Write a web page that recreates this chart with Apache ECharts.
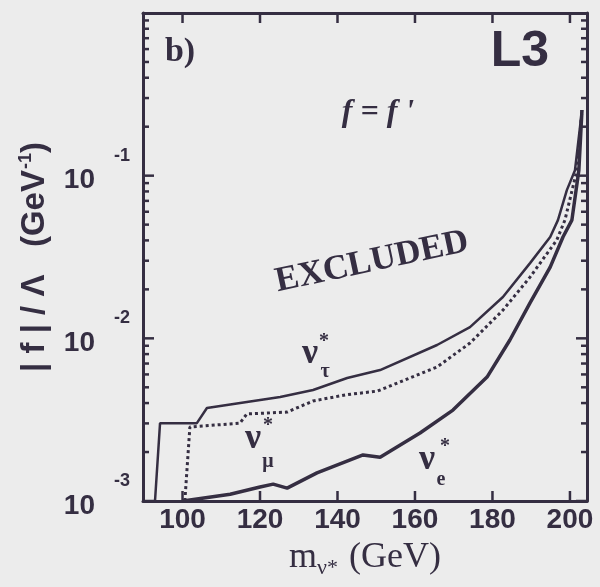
<!DOCTYPE html>
<html>
<head>
<meta charset="utf-8">
<script src="https://cdn.jsdelivr.net/npm/echarts@6/dist/echarts.min.js"></script>
<style>
  html, body { margin: 0; padding: 0; background: #ececec; }
  #chart { width: 600px; height: 587px; }
</style>
</head>
<body>
<div id="chart"></div>
<script>
// limits: mass in GeV, |f|/Lambda in GeV^-1
const tauMass = [92.9, 94.2, 103.7, 106.3, 116.6, 125.2, 133.7, 142.5, 151.0, 165.7, 174.2, 182.7, 189.7, 194.9, 196.9, 199.2, 201.3, 203.1];
const tauLimit = [0.001, 0.00301, 0.00301, 0.00373, 0.00406, 0.00436, 0.00481, 0.0057, 0.00638, 0.0091, 0.01172, 0.01795, 0.029, 0.042, 0.0533, 0.0815, 0.108, 0.253];

const muMass = [100.6, 101.9, 114.8, 116.6, 127.0, 133.7, 142.0, 150.3, 165.7, 174.2, 182.7, 189.7, 196.6, 198.7, 201.8, 203.1];
const muLimit = [0.001, 0.00285, 0.00301, 0.00343, 0.00352, 0.00412, 0.00449, 0.00474, 0.00667, 0.00935, 0.0149, 0.0238, 0.0402, 0.0533, 0.108, 0.253];

const eMass = [100.1, 112.3, 120.0, 123.4, 127.0, 134.7, 146.6, 151.0, 161.3, 169.8, 178.6, 184.5, 189.7, 194.9, 198.2, 200.5, 202.3, 203.1];
const eLimit = [0.001, 0.0011, 0.00122, 0.00127, 0.0012, 0.00149, 0.00192, 0.00186, 0.00262, 0.00362, 0.00578, 0.00977, 0.0165, 0.0274, 0.042, 0.0533, 0.108, 0.253];

const xRange = [89.8, 204.4];
const yRange = [0.001, 1];
const xTicks = [100, 120, 140, 160, 180, 200];
const yDecades = [0.001, 0.01, 0.1];
const yExponents = ['-3', '-2', '-1'];
const yMinorTicks = [0.002, 0.003, 0.004, 0.005, 0.006, 0.007, 0.008, 0.009,
  0.02, 0.03, 0.04, 0.05, 0.06, 0.07, 0.08, 0.09,
  0.2, 0.3, 0.4, 0.5, 0.6, 0.7, 0.8, 0.9];

const ink = '#352e42';
const bg = '#ececec';
const chart = echarts.init(document.getElementById('chart'), null, { renderer: 'canvas' });

function pairs(xs, ys) {
  return xs.map((x, i) => [x, ys[i]]);
}

function exponentOf(v) {
  const i = yDecades.findIndex(d => Math.abs(Math.log10(d) - Math.log10(v)) < 0.01);
  return i < 0 ? '' : yExponents[i];
}

const frame = { show: true, lineStyle: { color: ink, width: 3 } };
const sans = 'Liberation Sans';
const serif = 'Liberation Serif';

function logAxis(extra) {
  return Object.assign({
    type: 'log',
    logBase: 10,
    min: yRange[0],
    max: yRange[1],
    splitLine: { show: false },
    axisLine: { show: false },
    axisLabel: { show: false },
    axisTick: { show: false }
  }, extra);
}

function label(text, x, y, font, rotation) {
  return {
    type: 'text',
    x: x,
    y: y,
    rotation: rotation || 0,
    style: { text: text, font: font, fill: ink, textAlign: 'center', textVerticalAlign: 'middle' }
  };
}

function tickLine(x1, y1, x2, y2) {
  return { type: 'line', shape: { x1: x1, y1: y1, x2: x2, y2: y2 }, style: { stroke: ink, lineWidth: 2.5 } };
}

// inside tick marks on all four sides, placed through the axes' own scales
function renderXTick(params, api) {
  const v = api.value(0);
  const b = api.coord([v, yRange[0]]);
  const t = api.coord([v, yRange[1]]);
  return { type: 'group', children: [tickLine(b[0], b[1], b[0], b[1] - 10), tickLine(t[0], t[1], t[0], t[1] + 10)] };
}

function renderYTick(params, api) {
  const v = api.value(1);
  const len = yDecades.indexOf(v) >= 0 ? 11 : 6;
  const l = api.coord([xRange[0], v]);
  const r = api.coord([xRange[1], v]);
  return { type: 'group', children: [tickLine(l[0], l[1], l[0] + len, l[1]), tickLine(r[0], r[1], r[0] - len, r[1])] };
}

chart.setOption({
  backgroundColor: bg,
  animation: false,
  grid: { left: 143, right: 13, top: 13, bottom: 86 },
  xAxis: [
    {
      type: 'value', min: xRange[0], max: xRange[1], position: 'bottom',
      axisLine: frame,
      splitLine: { show: false },
      axisTick: { show: false },
      axisLabel: { customValues: xTicks, margin: 5, color: ink, fontSize: 28, fontWeight: 'bold', fontFamily: sans },
      name: '{a|m}{b|ν*}{a| (GeV)}',
      nameLocation: 'middle',
      nameGap: 36,
      nameTextStyle: {
        color: ink,
        rich: {
          a: { fontSize: 36, fontFamily: serif, color: ink },
          b: { fontSize: 22, fontFamily: serif, color: ink, padding: [20, 2, 0, 0] }
        }
      }
    },
    {
      type: 'value', min: xRange[0], max: xRange[1], position: 'top',
      axisLine: frame,
      splitLine: { show: false },
      axisTick: { show: false },
      axisLabel: { show: false }
    }
  ],
  yAxis: [
    logAxis({
      position: 'left',
      axisLine: frame,
      axisLabel: {
        show: true, customValues: yDecades, formatter: () => '10',
        margin: 48, verticalAlign: 'top', lineHeight: 10,
        color: ink, fontSize: 28, fontWeight: 'bold', fontFamily: sans
      },
      name: '{a|| f | / Λ   (GeV}{s|-1}{a|)}',
      nameLocation: 'middle',
      nameGap: 90,
      nameTextStyle: {
        color: ink,
        rich: {
          a: { fontSize: 33, fontWeight: 'bold', fontFamily: sans, color: ink },
          s: { fontSize: 18, fontWeight: 'bold', fontFamily: sans, color: ink, padding: [0, 0, 18, 1] }
        }
      }
    }),
    logAxis({
      position: 'left',
      axisLabel: {
        show: true, customValues: yDecades, formatter: exponentOf,
        margin: 13, verticalAlign: 'bottom', lineHeight: 40,
        color: ink, fontSize: 18, fontWeight: 'bold', fontFamily: sans
      }
    }),
    logAxis({
      position: 'right',
      axisLine: frame
    })
  ],
  graphic: [
    label('b)', 180, 52, 'bold 34px "Liberation Serif"'),
    label('L3', 520, 52, 'bold 50px "Liberation Sans"'),
    label("f = f '", 378, 113, 'italic bold 32px "Liberation Serif"'),
    label('EXCLUDED', 372, 262, 'bold 35px "Liberation Serif"', 0.21),
    label('ν', 310, 354, 'bold 36px "Liberation Serif"'),
    label('*', 324, 342, 'bold 20px "Liberation Serif"'),
    label('τ', 325, 372, 'bold 20px "Liberation Serif"'),
    label('ν', 253, 439, 'bold 36px "Liberation Serif"'),
    label('*', 268, 426, 'bold 20px "Liberation Serif"'),
    label('μ', 268, 462, 'bold 20px "Liberation Serif"'),
    label('ν', 427, 460, 'bold 36px "Liberation Serif"'),
    label('*', 445, 447, 'bold 20px "Liberation Serif"'),
    label('e', 441, 480, 'bold 20px "Liberation Serif"')
  ],
  series: [
    {
      name: 'xticks', type: 'custom', xAxisIndex: 0, yAxisIndex: 0,
      silent: true, clip: false, z: 5,
      data: xTicks.map(v => [v, yRange[0]]),
      renderItem: renderXTick
    },
    {
      name: 'yticks', type: 'custom', xAxisIndex: 0, yAxisIndex: 0,
      silent: true, clip: false, z: 5,
      data: yDecades.concat(yMinorTicks).map(v => [xRange[0], v]),
      renderItem: renderYTick
    },
    {
      name: 'nu_tau', type: 'line', xAxisIndex: 0, yAxisIndex: 0,
      symbol: 'none', data: pairs(tauMass, tauLimit),
      lineStyle: { color: ink, width: 2.5 }
    },
    {
      name: 'nu_mu', type: 'line', xAxisIndex: 0, yAxisIndex: 0,
      symbol: 'none', data: pairs(muMass, muLimit),
      lineStyle: { color: ink, width: 3, type: 'dotted' }
    },
    {
      name: 'nu_e', type: 'line', xAxisIndex: 0, yAxisIndex: 0,
      symbol: 'none', data: pairs(eMass, eLimit),
      lineStyle: { color: ink, width: 3.5 }
    }
  ]
});
</script>
</body>
</html>
